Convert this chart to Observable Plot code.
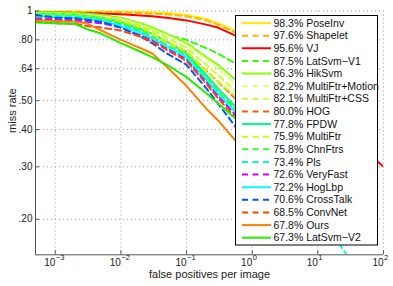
<!DOCTYPE html>
<html><head><meta charset="utf-8">
<script src="https://cdn.jsdelivr.net/npm/d3@7"></script>
<script src="https://cdn.jsdelivr.net/npm/@observablehq/plot@0.6"></script>
<style>body{margin:0;background:#fff}</style>
</head><body><div id="chart"></div>
<script>
// fppi sample positions (x)
const fppi = [5e-4, 1e-3, 2e-3, 3e-3, 5e-3, 1e-2, 2e-2, 3e-2, 5e-2, 0.1, 0.2, 0.3, 0.6, 1, 3, 10, 30, 100];

const methods = ["PoseInv","Shapelet","VJ","LatSvm\u2212V1","HikSvm","MultiFtr+Motion","MultiFtr+CSS","HOG","FPDW","MultiFtr","ChnFtrs","Pls","VeryFast","HogLbp","CrossTalk","ConvNet","Ours","LatSvm\u2212V2"];
const scores  = ["98.3%","97.6%","95.6%","87.5%","86.3%","82.2%","82.1%","80.0%","77.8%","75.9%","75.8%","73.4%","72.6%","72.2%","70.6%","68.5%","67.8%","67.3%"];
const colors  = ["#ffee00","#ffb300","#ff0000","#33ff00","#88ff00","#ddff88","#ccff33","#ff5a00","#00ff88","#ccff00","#33ff33","#00ffcc","#cc00ff","#00ffff","#0055ff","#ff4400","#ff8000","#22ee00"];
const dashed  = [false,true,false,true,false,true,true,true,false,true,true,true,true,false,true,true,false,false];

// miss rate at each fppi (y)
const missPoseInv   = [1.0,1.0,1.0,1.0,1.0,.998,.995,.99,.985,.97,.94,.91,.85,.80,.66,.50];
const missShapelet  = [.995,.995,.995,.99,.99,.99,.985,.98,.975,.96,.93,.90,.84,.79,.65,.49];
const missVJ        = [.99,.99,.985,.985,.98,.975,.965,.96,.95,.93,.90,.88,.82,.78,.64,.48,.38,.30];
const missLatSvmV1  = [.99,.985,.975,.97,.96,.93,.89,.86,.83,.80,.75,.72,.66,.62,.52,.42];
const missHikSvm    = [.99,.99,.985,.98,.97,.95,.91,.88,.84,.78,.70,.66,.58,.53,.42,.33];
const missMFMotion  = [.985,.98,.975,.97,.96,.94,.90,.87,.83,.77,.69,.64,.56,.51,.41];
const missMFCSS     = [.98,.975,.97,.96,.95,.93,.89,.86,.81,.75,.66,.61,.53,.48,.38];
const missHOG       = [.95,.945,.94,.935,.93,.91,.87,.84,.79,.73,.63,.58,.50,.46,.36,.28];
const missFPDW      = [.98,.975,.97,.96,.95,.92,.87,.84,.79,.72,.61,.55,.47,.42,.33,.26];
const missMultiFtr  = [.975,.97,.965,.955,.945,.92,.88,.84,.79,.73,.63,.58,.51,.46,.37];
const missChnFtrs   = [.97,.965,.96,.95,.94,.91,.86,.82,.77,.71,.60,.54,.46,.42,.33,.25];
const missPls       = [.96,.96,.955,.945,.93,.90,.85,.81,.76,.70,.59,.53,.45,.40,.30,.21,.148];
const missVeryFast  = [.94,.935,.93,.92,.91,.88,.83,.80,.75,.69,.58,.52,.44,.40,.32,.25];
const missHogLbp    = [.96,.955,.95,.94,.93,.89,.84,.81,.76,.70,.59,.53,.45,.41,.33,.27];
const missCrossTalk = [.97,.95,.945,.935,.92,.88,.82,.78,.72,.66,.55,.49,.40,.36,.28,.22];
const missConvNet   = [.92,.91,.905,.89,.88,.86,.82,.79,.74,.68,.57,.51,.43,.39,.30,.23];
const missOurs      = [.93,.925,.92,.91,.86,.80,.75,.72,.65,.56,.47,.43,.36,.32,.25,.19];
const missLatSvmV2  = [.915,.91,.905,.87,.84,.78,.73,.70,.66,.60,.53,.49,.43,.39,.30,.22];

const missAll = [missPoseInv,missShapelet,missVJ,missLatSvmV1,missHikSvm,missMFMotion,missMFCSS,missHOG,missFPDW,missMultiFtr,missChnFtrs,missPls,missVeryFast,missHogLbp,missCrossTalk,missConvNet,missOurs,missLatSvmV2];

const xTicks = [1e-3,1e-2,1e-1,1,10,100];
const yTicks = [0.2,0.3,0.4,0.5,0.64,0.8,1];
const yTickLabels = [".20",".30",".40",".50",".64",".80","1"];

const xDomain = [5e-4, 100];
const yDomain = [0.152, 1];

const curveMarks = missAll.map((m, i) => {
  const rows = m.map((v, j) => ({f: fppi[j], m: v}));
  return Plot.line(rows, {x: "f", y: "m", stroke: colors[i], strokeWidth: 2,
    strokeDasharray: dashed[i] ? "6,4" : null, clip: true});
});

const plot = Plot.plot({
  width: 393, height: 286,
  marginLeft: 35, marginRight: 10, marginTop: 10.5, marginBottom: 31.7,
  style: {fontFamily: "'Liberation Sans', Arial, sans-serif", fontSize: "10px", background: "white", color: "#222"},
  x: {type: "log", domain: xDomain, axis: null},
  y: {type: "log", domain: yDomain, axis: null},
  marks: [
    Plot.ruleX(xTicks, {x: d => d, stroke: "#9a9a9a", strokeDasharray: "1,3"}),
    Plot.ruleY(yTicks, {y: d => d, stroke: "#9a9a9a", strokeDasharray: "1,3"}),
    ...curveMarks,
    Plot.ruleX([xDomain[0]], {x: d => d, stroke: "#555", strokeWidth: 1}),
    Plot.ruleY([yDomain[0]], {y: d => d, stroke: "#555", strokeWidth: 1}),
    Plot.axisX({ticks: xTicks, tickSize: -4, tickFormat: () => "", stroke: "#555", label: null}),
    Plot.axisY({ticks: yTicks, tickSize: -4, tickFormat: () => "", stroke: "#555", label: null}),
    Plot.text(xTicks, {x: d => d, text: () => "10", frameAnchor: "bottom", dy: 11.5, textAnchor: "end", fill: "#222", fontSize: 10}),
    Plot.text(xTicks, {x: d => d, text: d => String(Math.round(Math.log10(d))).replace("-", "\u2212"), frameAnchor: "bottom", dy: 5, dx: 0.5, textAnchor: "start", fill: "#222", fontSize: 7.5}),
    Plot.text(yTicks, {y: d => d, text: (d, i) => yTickLabels[i], frameAnchor: "left", dx: -3, textAnchor: "end", fill: "#222", fontSize: 10}),
    Plot.text(["false positives per image"], {text: d => d, frameAnchor: "bottom", dy: 23, fill: "#222", fontSize: 11}),
    Plot.text(["miss rate"], {text: d => d, frameAnchor: "left", dx: -23, rotate: -90, fill: "#222", fontSize: 11})
  ]
});

// legend inside the plot area
const svg = d3.select(plot);
const lg = svg.append("g").attr("text-anchor", "start");
lg.append("rect").attr("x", 235.5).attr("y", 15.5).attr("width", 142).attr("height", 229.5)
  .attr("fill", "white").attr("stroke", "black").attr("stroke-width", 1);
methods.forEach((name, i) => {
  const yy = 23 + i * 12.63;
  lg.append("line").attr("x1", 242).attr("x2", 271).attr("y1", yy).attr("y2", yy)
    .attr("stroke", colors[i]).attr("stroke-width", 2)
    .attr("stroke-dasharray", dashed[i] ? "6,4.5" : null);
  lg.append("text").attr("x", 273.5).attr("y", yy).attr("dy", "0.35em")
    .attr("text-anchor", "start")
    .attr("font-size", 10.5).attr("fill", "#111")
    .attr("font-family", "'Liberation Sans', Arial, sans-serif")
    .text(scores[i] + " " + name);
});

document.getElementById("chart").appendChild(plot);
</script>
</body></html>
